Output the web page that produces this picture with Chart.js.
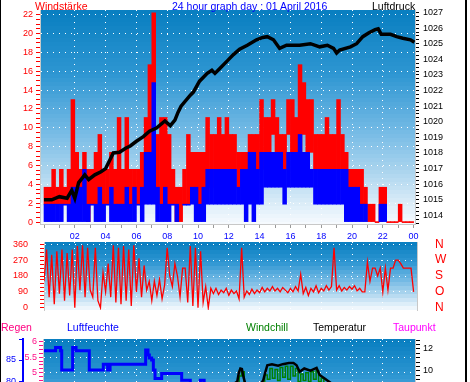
<!DOCTYPE html>
<html><head><meta charset="utf-8">
<script src="https://cdn.jsdelivr.net/npm/chart.js@4"></script>
<style>
html,body{margin:0;padding:0;background:#fff;width:470px;height:382px;overflow:hidden;}
#wrap{position:relative;width:470px;height:382px;overflow:hidden;background:#fff;}
canvas{position:absolute;left:0;}
.t{position:absolute;font-family:"Liberation Sans",Arial,sans-serif;font-size:11px;line-height:11px;white-space:nowrap;}
.fr{position:absolute;top:0;height:382px;background:#000;}
</style></head><body>
<div id="wrap">
<canvas id="c1" width="470" height="245" style="top:0px"></canvas>
<canvas id="c2" width="470" height="108" style="top:222px"></canvas>
<canvas id="c3" width="470" height="162" style="top:312px"></canvas>
<div class="fr" style="left:0;width:1px"></div>
<div class="fr" style="left:465px;width:2px"></div>
</div>
<script>
// ---------- texts ----------
const titleTexts = ['Windstärke', '24 hour graph day : 01 April 2016', 'Luftdruck'];
const legendTexts = ['Regen', 'Luftfeuchte', 'Windchill', 'Temperatur', 'Taupunkt'];

// ---------- hour axis ----------
const hourTickHours = [2, 4, 6, 8, 10, 12, 14, 16, 18, 20, 22, 24];
const hourTickLabels = ['02', '04', '06', '08', '10', '12', '14', '16', '18', '20', '22', '00'];

// ---------- wind (15-minute bins, km/h) ----------
const gustLo = [1.9,1.9,1.9,1.9, 1.9,1.9,1.9,3.7, 3.7,3.7,1.9,0, 1.9,1.9,1.9,1.9,
  1.9,3.7,1.9,1.9, 1.9,1.9,1.9,1.9, 1.9,1.9,3.7,3.7, 3.7,1.9,1.9,1.9,
  1.9,1.9,0,0, 1.9,1.9,3.7,1.9, 1.9,3.7,3.7,3.7, 5.6,5.6,5.6,5.6,
  3.7,5.6,3.7,3.7, 3.7,5.6,5.6,5.6, 5.6,7.4,7.4,9.3, 7.4,5.6,5.6,9.3,
  7.4,5.6,7.4,9.3, 7.4,7.4,5.6,5.6, 5.6,5.6,5.6,5.6, 5.6,5.6,3.7,3.7,
  3.7,3.7,1.9,1.9, 0,0,0,0, 1.9,0,0,0, 0,0,0,0];
const gustHi = [3.7,3.7,5.6,3.7, 5.6,3.7,5.6,13, 7.4,5.6,7.4,5.6, 5.6,7.4,9.3,5.6,
  5.6,7.4,5.6,11.1, 5.6,11.1,5.6,5.6, 5.6,7.4,11.1,16.7, 22.2,9.3,11.1,11.1,
  9.3,5.6,3.7,3.7, 5.6,9.3,7.4,7.4, 7.4,7.4,11.1,9.3, 9.3,11.1,9.3,11.1,
  9.3,9.3,7.4,7.4, 7.4,9.3,9.3,9.3, 13,11.1,11.1,13, 11.1,9.3,9.3,13,
  13,11.1,16.7,14.8, 13,13,9.3,9.3, 9.3,11.1,9.3,9.3, 13,9.3,7.4,5.6,
  5.6,5.6,5.6,3.7, 1.9,1.9,0,3.7, 3.7,0,0,0, 1.9,0,0,0];
const avgLo = [0,0,0,0, 0,1.9,0,0, 0,0,0,0, 1.9,0,0,0,
  1.9,0,0,0, 0,0,0,0, 1.9,0,1.9,1.9, 1.9,0,0,0,
  0,1.9,0,null, 1.9,1.9,1.9,0, 0,0,1.9,1.9, 1.9,1.9,1.9,1.9,
  1.9,1.9,1.9,1.9, 0,1.9,0,1.9, 1.9,3.7,3.7,3.7, 3.7,3.7,1.9,3.7,
  3.7,3.7,3.7,3.7, 3.7,3.7,1.9,1.9, 1.9,1.9,1.9,1.9, 1.9,1.9,0,0,
  0,0,0,0, null,null,null,0, 0,null,null,null, null,null,null,null];
const avgHi = [1.9,1.9,1.9,1.9, 1.9,1.9,1.9,3.7, 3.7,3.7,5.6,1.9, 1.9,1.9,3.7,1.9,
  1.9,3.7,1.9,1.9, 1.9,3.7,1.9,3.7, 1.9,3.7,7.4,7.4, 14.8,3.7,1.9,3.7,
  1.9,1.9,1.9,null, 1.9,1.9,3.7,3.7, 1.9,3.7,5.6,5.6, 5.6,5.6,5.6,5.6,
  5.6,5.6,3.7,5.6, 5.6,7.4,7.4,5.6, 7.4,7.4,7.4,7.4, 7.4,7.4,5.6,7.4,
  7.4,7.4,9.3,7.4, 7.4,5.6,5.6,5.6, 5.6,5.6,5.6,5.6, 5.6,5.6,5.6,3.7,
  3.7,3.7,1.9,1.9, null,null,null,1.9, 1.9,null,null,null, null,null,null,null];

// ---------- pressure (hPa) ----------
const pressT = [0,0.5,1,1.5,1.8,2,2.25,2.65,2.9,3.3,3.7,4,4.3,4.5,4.9,5.3,5.6,6,6.45,6.85,7.3,7.85,8.2,8.5,8.7,8.9,9.5,9.7,10.1,10.6,10.9,11.1,11.4,11.9,12.3,12.7,13.2,13.8,14.2,14.5,14.9,15.3,15.75,16.6,17.3,17.9,18.4,18.8,19,19.2,19.9,20.3,20.7,21.1,21.5,21.7,21.9,22.5,22.9,23.3,23.8,24.05];
const pressV = [1015.0,1015.0,1015.2,1015.1,1015.6,1015.1,1016.1,1016.6,1016.3,1016.6,1016.8,1017.0,1017.6,1018.0,1018.05,1018.3,1018.45,1018.75,1019.05,1019.4,1019.6,1020.05,1019.75,1020.1,1020.6,1021.0,1021.7,1021.9,1022.6,1023.1,1023.3,1023.1,1023.4,1023.9,1024.3,1024.65,1024.9,1025.25,1025.4,1025.45,1025.25,1024.7,1024.9,1024.9,1025.0,1024.8,1024.9,1024.7,1024.4,1024.6,1024.8,1025.0,1025.45,1025.7,1025.9,1025.95,1025.6,1025.6,1025.45,1025.35,1025.25,1025.1];

// ---------- wind direction (10-minute samples, degrees) ----------
const dirDeg = [
  150,330,60,300,20,320,
  80,330,40,310,70,330,
  0,350,100,355,60,340,
  100,60,340,40,0,200,
  90,250,60,355,30,340,
  20,350,40,330,10,355,
  90,280,60,240,100,150,
  40,150,70,160,50,130,
  340,180,120,250,180,60,
  225,225,30,350,10,340,
  0,320,30,120,0,110,
  80,110,75,100,85,110,
  70,100,80,95,50,340,
  60,95,75,105,80,100,
  85,115,90,110,95,120,
  95,110,90,115,100,85,
  110,90,120,95,190,80,
  115,70,110,90,125,85,
  110,95,125,100,120,340,
  100,125,95,115,100,120,
  105,125,95,110,90,90,
  260,150,225,225,180,225,
  90,225,100,225,225,270,
  270,250,225,225,225,225,
  90];
const compassVals = [360, 270, 180, 90, 0];
const compassLabels = ['N', 'W', 'S', 'O', 'N'];

// ---------- lower panel ----------
const rainT = [0, 4.25, 4.35, 4.6, 4.85, 4.9, 5.95, 6.0, 23.95, 23.98];
const rainV = [4.2, 4.5, 5.0, 5.4, 5.4, 5.75, 5.75, 6.0, 6.0, 0];
const humT = [0,0.75,1.08,1.15,1.86,2.08,2.94,3.85,4.13,4.29,6.6,6.75,6.84,6.99,7.1,7.21,7.64,8.94,9.5,10.15,10.4,12,14,16,18,20,22,24];
const humV = [87.2,88.0,87.2,82.6,88.0,87.2,82.6,84.0,82.6,84.0,87.4,86.2,85.5,85.0,82.6,80.6,81.8,80.2,79.0,80.2,78.5,74,71,69,70,73,76,77];
const tempT = [0,3,6,9,12,12.55,12.65,12.75,12.85,12.95,13.05,13.5,14.1,14.24,14.35,14.5,14.8,15.2,15.5,15.9,16.2,16.4,16.6,16.9,17.3,17.7,17.9,18.2,18.4,18.7,20,22,24];
const tempV = [4.5,4.0,5.0,7.0,8.5,9.0,9.8,10.2,10.15,9.45,8.9,8.6,8.8,9.14,9.76,10.5,10.6,10.45,10.6,10.7,10.7,10.5,9.9,10.2,10.0,10.25,9.6,9.3,9.1,8.8,8.0,7.0,6.0];
const chillT = [0,12,12.5,12.67,12.83,13.0,13.17,14.17,14.33,14.5,14.67,14.83,15.0,15.17,15.33,15.5,15.67,15.83,16.0,16.17,16.33,16.5,16.67,16.83,17.0,17.17,17.33,17.5,17.67,17.83,18.0,18.17,18.33,20,24];
const chillV = [3.5,7.5,8.5,9.5,9.9,8.8,8.3,8.9,9.6,9.2,10.2,9.3,10.1,9.1,10.3,9.4,10.4,9.2,10.4,9.5,10.2,9.0,9.7,9.1,9.8,9.0,9.9,9.2,10.0,9.0,9.3,8.8,8.5,7.2,5.0];

// ---------- helpers ----------
const pairs = (xs, ys) => xs.map((x, i) => ({x: x, y: ys[i]}));
const hourMarks = [];
for (let h = 0; h <= 24; h++) hourMarks.push(h);

// size header text so the title spans the same width as in the reference
const mctx = document.createElement('canvas').getContext('2d');
mctx.font = '11px "Liberation Sans"';
const titleW = mctx.measureText(titleTexts[1]).width;
const textSize = Math.max(9, Math.min(13, 11 * 156 / (titleW || 156)));

const wrap = document.getElementById('wrap');
const textSpots = [
  [titleTexts[0], 35, 1, '#ff0000'], [titleTexts[1], 172, 1, '#0000ff'], [titleTexts[2], 372, 1, '#000000'],
  [legendTexts[0], 1, 322, '#ff0080'], [legendTexts[1], 67, 322, '#0000ff'], [legendTexts[2], 246, 322, '#008000'],
  [legendTexts[3], 313, 322, '#000000'], [legendTexts[4], 393, 322, '#ff00ff']
];
textSpots.forEach(([txt, x, y, col]) => {
  const d = document.createElement('div');
  d.className = 't'; d.textContent = txt;
  d.style.left = x + 'px'; d.style.top = y + 'px'; d.style.color = col;
  d.style.fontSize = textSize.toFixed(2) + 'px';
  wrap.appendChild(d);
});

Chart.defaults.font.family = '"Liberation Sans", Arial, sans-serif';
Chart.defaults.font.size = 9;

const bgPlugin = {
  id: 'bgband',
  beforeDraw(chart) {
    const {ctx, chartArea: a} = chart;
    const stops = [[0,[8,126,192]],[0.3,[46,150,210]],[0.55,[112,184,228]],[0.75,[170,212,238]],[0.9,[218,236,248]],[1,[246,250,254]]];
    const band = 4, hgt = a.bottom - a.top;
    ctx.save();
    for (let y = a.top; y < a.bottom; y += band) {
      const f = (y + band / 2 - a.top) / hgt;
      let i = 0;
      while (i < stops.length - 2 && f > stops[i + 1][0]) i++;
      const k = Math.min(1, Math.max(0, (f - stops[i][0]) / (stops[i + 1][0] - stops[i][0])));
      const c = stops[i][1].map((v, j) => Math.round(v + (stops[i + 1][1][j] - v) * k));
      ctx.fillStyle = 'rgb(' + c.join(',') + ')';
      ctx.fillRect(a.left, y, a.right - a.left, Math.min(band, a.bottom - y));
    }
    ctx.restore();
  }
};

const DOT = [1, 5];
const clear = 'rgba(0,0,0,0)';
function hourScale(min, max, show) {
  return {
    type: 'linear', min: min, max: max, offset: false,
    afterBuildTicks: s => { s.ticks = hourMarks.map(v => ({value: v})); },
    afterFit: s => { s.height = show ? 21 : 0; },
    grid: {offset: false, drawTicks: show, tickLength: 4, tickColor: '#9a9a9a',
      color: c => (c.tick && c.tick.value < 24 && hourTickHours.includes(c.tick.value)) ? '#ffffff' : clear},
    border: {display: show, color: '#c8c8c8', dash: DOT},
    ticks: {display: show, autoSkip: false, maxRotation: 0, minRotation: 0, padding: 3, color: '#0000ff',
      callback: v => { const k = hourTickHours.indexOf(v); return k >= 0 ? hourTickLabels[k] : ''; }}
  };
}
const baseOpts = (pad) => ({
  responsive: false, animation: false, devicePixelRatio: 1, events: [],
  layout: {padding: pad},
  plugins: {legend: {display: false}, tooltip: {enabled: false}, title: {display: false}}
});

// ---------- chart 1: wind + pressure ----------
const binX = gustLo.map((v, i) => (i + 0.5) * 0.25);
new Chart(document.getElementById('c1'), {
  type: 'bar',
  data: {datasets: [
    {type: 'line', yAxisID: 'p', data: pairs(pressT, pressV), borderColor: '#000', borderWidth: 3.5,
      pointRadius: 0, tension: 0, order: 0},
    {type: 'bar', yAxisID: 'y', data: binX.map((x, i) => ({x: x, y: avgLo[i] === null ? null : [avgLo[i], avgHi[i]]})),
      backgroundColor: '#0000ff', grouped: false, barPercentage: 1, categoryPercentage: 1, minBarLength: 1, order: 1},
    {type: 'bar', yAxisID: 'y', data: binX.map((x, i) => ({x: x, y: [gustLo[i], gustHi[i]]})),
      backgroundColor: '#ff0000', grouped: false, barPercentage: 1, categoryPercentage: 1, minBarLength: 1, order: 2}
  ]},
  options: Object.assign(baseOpts({top: 10, left: 0, right: 0, bottom: 0}), {
    scales: {
      x: hourScale(-0.26, 24.09, true),
      y: {type: 'linear', position: 'left', min: -0.2, max: 22.5,
        afterBuildTicks: s => { const t = []; for (let k = 0; k <= 44; k++) t.push({value: k / 2}); s.ticks = t; },
        afterFit: s => { s.width = 40; },
        grid: {tickColor: '#ff0000', tickLength: 4, color: c => (c.tick && c.tick.value > 0 && c.tick.value % 2 === 0) ? '#ffffff' : clear},
        border: {display: true, color: '#c8c8c8', dash: DOT},
        ticks: {autoSkip: false, padding: 3, color: '#ff0000', callback: v => (v % 2 === 0 ? String(v) : '')}},
      p: {type: 'linear', position: 'right', min: 1013.45, max: 1027.16,
        afterBuildTicks: s => { const t = []; for (let k = 0; k <= 54; k++) t.push({value: 1013.5 + k * 0.25}); s.ticks = t; },
        afterFit: s => { s.width = 55; },
        grid: {drawOnChartArea: false, tickColor: '#000', tickLength: 4},
        border: {display: true, color: '#c8c8c8'},
        ticks: {autoSkip: false, padding: 4, color: '#000', callback: v => (Number.isInteger(v) ? String(v) : '')}}
    }
  }),
  plugins: [bgPlugin]
});

// ---------- chart 2: wind direction ----------
new Chart(document.getElementById('c2'), {
  type: 'line',
  data: {datasets: [
    {yAxisID: 'd', data: dirDeg.map((v, i) => ({x: i / 6, y: v})), borderColor: '#ff0000', borderWidth: 1.3,
      pointRadius: 0, tension: 0, stepped: false}
  ]},
  options: Object.assign(baseOpts({top: 20, left: 0, right: 0, bottom: 20}), {
    scales: {
      x: hourScale(0, 24.22, false),
      d: {type: 'linear', position: 'left', min: -13, max: 373,
        afterBuildTicks: s => { const t = []; for (let k = 0; k <= 16; k++) t.push({value: k * 22.5}); s.ticks = t; },
        afterFit: s => { s.width = 44; },
        grid: {tickColor: '#ff0000', tickLength: 4, color: c => (c.tick && c.tick.value > 0 && c.tick.value % 90 === 0) ? '#ffffff' : clear},
        border: {display: true, color: '#c8c8c8', dash: DOT},
        ticks: {autoSkip: false, padding: 12, color: '#ff0000', callback: v => (v % 90 === 0 ? String(v) : '')}},
      c: {type: 'linear', position: 'right', min: -13, max: 373,
        afterBuildTicks: s => { s.ticks = compassVals.map(v => ({value: v})); },
        afterFit: s => { s.width = 53; },
        grid: {display: false, drawTicks: true, tickLength: 18},
        border: {display: true, color: '#c8c8c8'},
        ticks: {autoSkip: false, padding: 0, color: '#ff0000', font: {size: 12},
          callback: v => compassLabels[compassVals.indexOf(v)]}}
    }
  }),
  plugins: [bgPlugin]
});

// ---------- chart 3: rain, humidity, temperature ----------
new Chart(document.getElementById('c3'), {
  type: 'line',
  data: {datasets: [
    {yAxisID: 'r', data: pairs(rainT, rainV), borderColor: '#ff1088', borderWidth: 3, pointRadius: 0, tension: 0, order: 0},
    {yAxisID: 'h', data: pairs(humT, humV), borderColor: '#0000ff', borderWidth: 3, pointRadius: 0, stepped: true, order: 1},
    {yAxisID: 't', data: pairs(tempT, tempV), borderColor: '#000000', borderWidth: 2.5, pointRadius: 0, tension: 0, order: 2},
    {yAxisID: 't', data: pairs(chillT, chillV), borderColor: '#008000', borderWidth: 1.5, pointRadius: 0, stepped: true, order: 3}
  ]},
  options: Object.assign(baseOpts({top: 27, left: 0, right: 0, bottom: 10}), {
    scales: {
      x: hourScale(-0.065, 24.09, false),
      h: {type: 'linear', position: 'left', weight: 2, min: 60.25, max: 90,
        afterBuildTicks: s => { s.ticks = [65, 70, 75, 80, 85, 90].map(v => ({value: v})); },
        afterFit: s => { s.width = 23; },
        grid: {drawOnChartArea: false, tickColor: '#0000ff', tickLength: 4},
        border: {display: true, color: '#0000ff', width: 2},
        ticks: {autoSkip: false, padding: 3, color: '#0000ff', callback: v => (v < 90 ? String(v) : '')}},
      r: {type: 'linear', position: 'left', weight: 1, min: 2, max: 6.098,
        afterBuildTicks: s => { const t = []; for (let k = 0; k <= 32; k++) t.push({value: 2 + k * 0.125}); s.ticks = t; },
        afterFit: s => { s.width = 20; },
        grid: {tickColor: '#ff1088', tickLength: 4, color: c => (c.tick && c.tick.value % 0.5 === 0) ? '#ffffff' : clear},
        border: {display: true, color: '#c8c8c8', dash: DOT},
        ticks: {autoSkip: false, padding: 2, color: '#ff1088', callback: v => (v % 0.5 === 0 ? String(v) : '')}},
      t: {type: 'linear', position: 'right', min: 1.40, max: 12.92,
        afterBuildTicks: s => { const t = []; for (let k = 0; k <= 27; k++) t.push({value: Math.round((2 + k * 0.4) * 10) / 10}); s.ticks = t; },
        afterFit: s => { s.width = 55; },
        grid: {drawOnChartArea: false, tickColor: '#000', tickLength: 5},
        border: {display: true, color: '#c8c8c8'},
        ticks: {autoSkip: false, padding: 3, color: '#000', callback: v => (Number.isInteger(v) && v % 2 === 0 ? String(v) : '')}}
    }
  }),
  plugins: [bgPlugin]
});
</script>
</body></html>
